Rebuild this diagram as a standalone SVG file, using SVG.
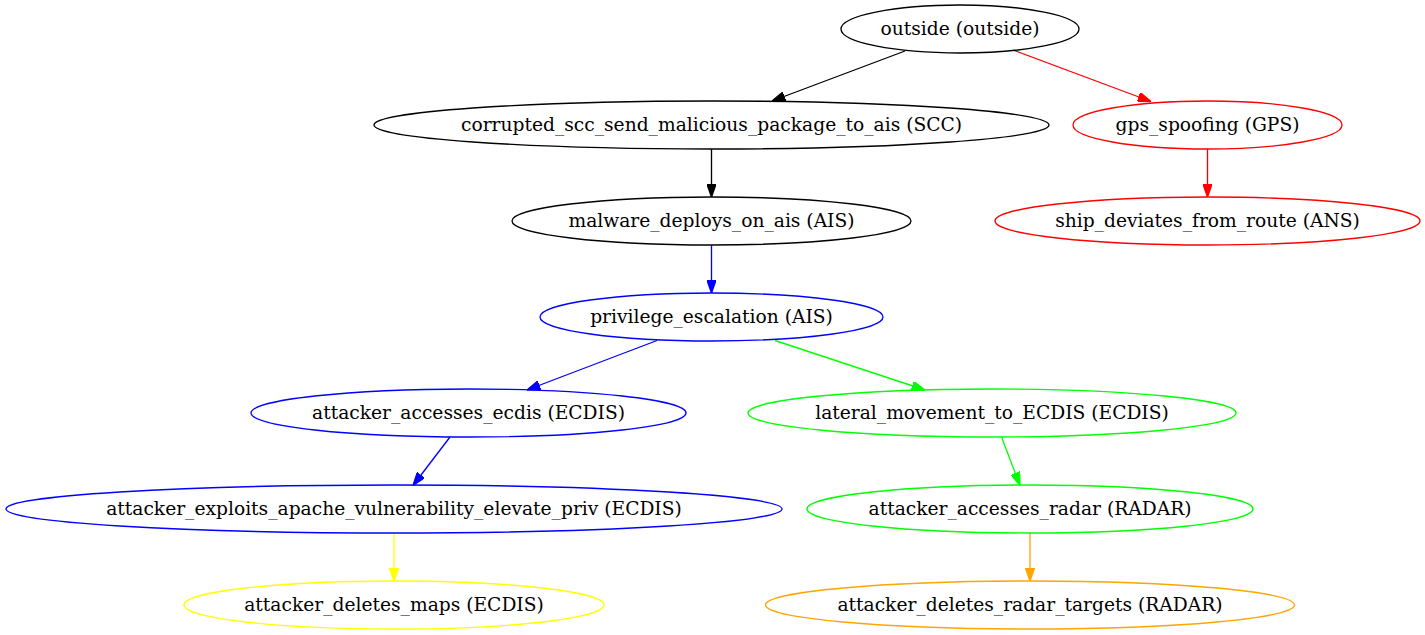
<svg xmlns="http://www.w3.org/2000/svg" width="1425" height="635" viewBox="0 0 1425 635">
  <style>
    .node ellipse { fill: none; stroke-width: 1.33; }
    .node text { font-family: "DejaVu Serif", "Liberation Serif", serif; font-size: 18.67px; text-anchor: middle; fill: #000; }
    .edge { fill: none; stroke-width: 1.33; }
    .k { stroke: #000; } .r { stroke: #f00; } .b { stroke: #00f; }
    .g { stroke: #0f0; } .y { stroke: #ff0; } .o { stroke: #ffa500; }
  </style>
  <defs>
    <marker id="ak" viewBox="0 0 10 7" refX="10" refY="3.5" markerWidth="13.3" markerHeight="9.3" markerUnits="userSpaceOnUse" orient="auto"><path d="M0,0 L10,3.5 L0,7 z" fill="#000" stroke="#000"/></marker>
    <marker id="ar" viewBox="0 0 10 7" refX="10" refY="3.5" markerWidth="13.3" markerHeight="9.3" markerUnits="userSpaceOnUse" orient="auto"><path d="M0,0 L10,3.5 L0,7 z" fill="#f00" stroke="#f00"/></marker>
    <marker id="ab" viewBox="0 0 10 7" refX="10" refY="3.5" markerWidth="13.3" markerHeight="9.3" markerUnits="userSpaceOnUse" orient="auto"><path d="M0,0 L10,3.5 L0,7 z" fill="#00f" stroke="#00f"/></marker>
    <marker id="ag" viewBox="0 0 10 7" refX="10" refY="3.5" markerWidth="13.3" markerHeight="9.3" markerUnits="userSpaceOnUse" orient="auto"><path d="M0,0 L10,3.5 L0,7 z" fill="#0f0" stroke="#0f0"/></marker>
    <marker id="ay" viewBox="0 0 10 7" refX="10" refY="3.5" markerWidth="13.3" markerHeight="9.3" markerUnits="userSpaceOnUse" orient="auto"><path d="M0,0 L10,3.5 L0,7 z" fill="#ff0" stroke="#ff0"/></marker>
    <marker id="ao" viewBox="0 0 10 7" refX="10" refY="3.5" markerWidth="13.3" markerHeight="9.3" markerUnits="userSpaceOnUse" orient="auto"><path d="M0,0 L10,3.5 L0,7 z" fill="#ffa500" stroke="#ffa500"/></marker>
  </defs>
  <rect width="1425" height="635" fill="#fff"/>

  <!-- connectors -->
  <g id="edges">
    <path class="edge k" d="M905,51 L772,101" marker-end="url(#ak)"/>
    <path class="edge r" d="M1013,50 L1151,101.5" marker-end="url(#ar)"/>
    <path class="edge k" d="M711.5,149 L711.5,197" marker-end="url(#ak)"/>
    <path class="edge r" d="M1207.5,149 L1207.5,197" marker-end="url(#ar)"/>
    <path class="edge b" d="M711.5,245 L711.5,293" marker-end="url(#ab)"/>
    <path class="edge b" d="M657,340.5 L527,390" marker-end="url(#ab)"/>
    <path class="edge g" d="M775,340.5 L925,390" marker-end="url(#ag)"/>
    <path class="edge b" d="M450,437 L413,485.5" marker-end="url(#ab)"/>
    <path class="edge g" d="M1001.5,437 L1020,485.5" marker-end="url(#ag)"/>
    <path class="edge y" d="M394,533 L394,581" marker-end="url(#ay)"/>
    <path class="edge o" d="M1030,533 L1030,581" marker-end="url(#ao)"/>
  </g>

  <!-- nodes -->
  <g id="outside" class="node"><ellipse class="k" cx="960" cy="29" rx="119" ry="24"/><text x="960" y="34.5">outside (outside)</text></g>
  <g id="corrupted_scc" class="node"><ellipse class="k" cx="711.5" cy="125" rx="337.5" ry="24"/><text x="711.5" y="130.5">corrupted_scc_send_malicious_package_to_ais (SCC)</text></g>
  <g id="gps_spoofing" class="node"><ellipse class="r" cx="1207.5" cy="125" rx="134.5" ry="24"/><text x="1207.5" y="130.5">gps_spoofing (GPS)</text></g>
  <g id="malware_deploys" class="node"><ellipse class="k" cx="711.5" cy="221" rx="199.5" ry="24"/><text x="711.5" y="226.5">malware_deploys_on_ais (AIS)</text></g>
  <g id="ship_deviates" class="node"><ellipse class="r" cx="1207.5" cy="221" rx="212.5" ry="24"/><text x="1207.5" y="226.5">ship_deviates_from_route (ANS)</text></g>
  <g id="privilege_escalation" class="node"><ellipse class="b" cx="711.5" cy="317" rx="171.5" ry="24"/><text x="711.5" y="322.5">privilege_escalation (AIS)</text></g>
  <g id="accesses_ecdis" class="node"><ellipse class="b" cx="468.5" cy="413" rx="217.5" ry="24"/><text x="468.5" y="418.5">attacker_accesses_ecdis (ECDIS)</text></g>
  <g id="lateral_movement" class="node"><ellipse class="g" cx="992" cy="413" rx="244" ry="24"/><text x="992" y="418.5">lateral_movement_to_ECDIS (ECDIS)</text></g>
  <g id="exploits_apache" class="node"><ellipse class="b" cx="394" cy="509" rx="388" ry="24"/><text x="394" y="514.5">attacker_exploits_apache_vulnerability_elevate_priv (ECDIS)</text></g>
  <g id="accesses_radar" class="node"><ellipse class="g" cx="1030" cy="509" rx="223" ry="24"/><text x="1030" y="514.5">attacker_accesses_radar (RADAR)</text></g>
  <g id="deletes_maps" class="node"><ellipse class="y" cx="394" cy="605" rx="210" ry="24"/><text x="394" y="610.5">attacker_deletes_maps (ECDIS)</text></g>
  <g id="deletes_radar_targets" class="node"><ellipse class="o" cx="1030" cy="605" rx="264.5" ry="24"/><text x="1030" y="610.5">attacker_deletes_radar_targets (RADAR)</text></g>
</svg>
